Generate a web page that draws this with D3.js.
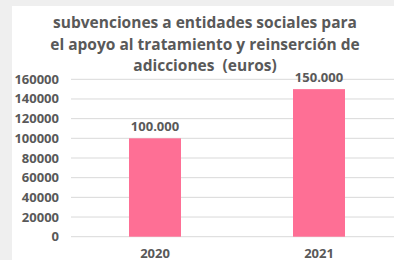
<!DOCTYPE html>
<html>
<head>
<meta charset="utf-8">
<script src="https://cdn.jsdelivr.net/npm/d3@7"></script>
<style>
  body { margin: 0; background: #efefef; }
  text { font-family: "Open Sans", sans-serif; font-weight: bold; fill: #595959; white-space: pre; }
</style>
</head>
<body>
<svg id="chart" width="394" height="260"></svg>
<script>
var years = ["2020", "2021"];
var amounts = [100000, 150000];
var amountLabels = ["100.000", "150.000"];
var yTicks = [0, 20000, 40000, 60000, 80000, 100000, 120000, 140000, 160000];
var titleLines = ["subvenciones a entidades sociales para",
                  "el apoyo al tratamiento y reinserción de",
                  "adicciones  (euros)"];

var svg = d3.select("#chart");

// white chart area
svg.append("rect")
  .attr("x", 12).attr("y", 6)
  .attr("width", 382).attr("height", 254)
  .attr("fill", "#fff");

var x = d3.scaleBand().domain(years).range([73, 401])
  .paddingInner(0.683).paddingOuter(0.3415);
var y = d3.scaleLinear().domain([0, 160000]).range([236.7, 79.3]);

// gridlines
svg.append("g").selectAll("line")
  .data(yTicks)
  .join("line")
  .attr("x1", 71).attr("x2", 394)
  .attr("y1", d => y(d)).attr("y2", d => y(d))
  .attr("stroke", "#d9d9d9").attr("stroke-width", 1);

// y axis labels
svg.append("g").selectAll("text")
  .data(yTicks)
  .join("text")
  .attr("x", 59)
  .attr("y", d => y(d) + 4.5)
  .attr("text-anchor", "end")
  .attr("font-size", 13)
  .text(d => d);

// bars
svg.append("g").selectAll("rect")
  .data(amounts)
  .join("rect")
  .attr("x", (d, i) => x(years[i]))
  .attr("y", d => y(d))
  .attr("width", x.bandwidth())
  .attr("height", d => y(0) - y(d))
  .attr("fill", "#fe6f95");

// value labels
svg.append("g").selectAll("text")
  .data(amounts)
  .join("text")
  .attr("x", (d, i) => x(years[i]) + x.bandwidth() / 2)
  .attr("y", d => y(d) - 7)
  .attr("text-anchor", "middle")
  .attr("font-size", 13)
  .text((d, i) => amountLabels[i]);

// x labels
svg.append("g").selectAll("text")
  .data(years)
  .join("text")
  .attr("x", d => x(d) + x.bandwidth() / 2)
  .attr("y", 257.5)
  .attr("text-anchor", "middle")
  .attr("font-size", 13)
  .text(d => d);

// title
svg.append("g").selectAll("text")
  .data(titleLines)
  .join("text")
  .attr("x", 205)
  .attr("y", (d, i) => 28 + i * 21.5)
  .attr("text-anchor", "middle")
  .attr("font-size", 15.5)
  .text(d => d);
</script>
</body>
</html>
